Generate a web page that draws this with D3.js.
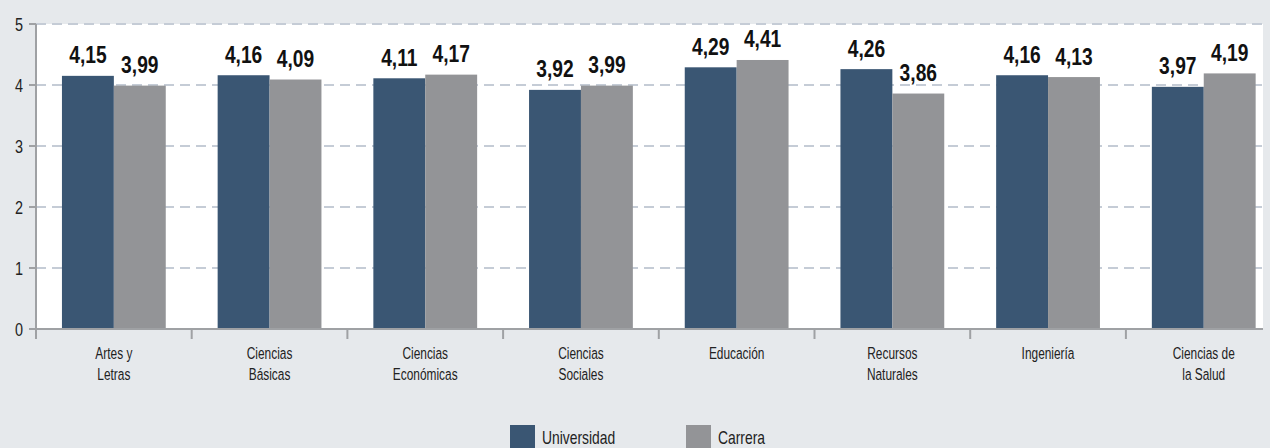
<!DOCTYPE html>
<html>
<head>
<meta charset="utf-8">
<script src="https://cdn.jsdelivr.net/npm/d3@7"></script>
<style>
  body { margin: 0; background: #e6e9ec; }
  svg { display: block; font-family: "Liberation Sans", Arial, sans-serif; }
</style>
</head>
<body>
<div id="chart"></div>
<script>
// data
const categories = ["Artes y\nLetras", "Ciencias\nBásicas", "Ciencias\nEconómicas", "Ciencias\nSociales",
  "Educación", "Recursos\nNaturales", "Ingeniería", "Ciencias de\nla Salud"];
const universidad = [4.15, 4.16, 4.11, 3.92, 4.29, 4.26, 4.16, 3.97];
const carrera = [3.99, 4.09, 4.17, 3.99, 4.41, 3.86, 4.13, 4.19];
const seriesNames = ["Universidad", "Carrera"];
const yTicks = [0, 1, 2, 3, 4, 5];

const colors = ["#3a5673", "#939497"];
const W = 1270, H = 448;
const mLeft = 36, mTop = 24, mBottom = 329, plotRight = 1263;

const svg = d3.select("#chart").append("svg")
  .attr("width", W).attr("height", H);

svg.append("rect").attr("width", W).attr("height", H).attr("fill", "#e6e9ec");

const x = d3.scaleBand().domain(categories).range([mLeft, mLeft + 8 * 155.7]);
const xs = d3.scaleBand().domain(seriesNames).range([0, x.bandwidth()]).paddingInner(0).paddingOuter(0.5);
const y = d3.scaleLinear().domain([0, 5]).range([mBottom, mTop]);

const loc = d3.formatLocale({decimal: ",", thousands: ".", grouping: [3], currency: ["", ""]});
const fmt = loc.format(".2f");

// narrow text: squeeze horizontally to mimic the condensed face
const squeeze = (px, py, sx) => `translate(${px},${py}) scale(${sx},1)`;

// white plot area
svg.append("rect")
  .attr("x", mLeft).attr("y", mTop)
  .attr("width", plotRight - mLeft).attr("height", mBottom - mTop)
  .attr("fill", "#ffffff");

// gridlines
svg.append("g").selectAll("line")
  .data(yTicks.filter(d => d > 0))
  .join("line")
    .attr("x1", mLeft).attr("x2", plotRight)
    .attr("y1", d => y(d)).attr("y2", d => y(d))
    .attr("stroke", "#c5ccd6").attr("stroke-width", 2)
    .attr("stroke-dasharray", "10,6");

// bars
const rows = categories.map((c, i) => ({cat: c, vals: [universidad[i], carrera[i]]}));
const grp = svg.append("g").selectAll("g")
  .data(rows)
  .join("g")
    .attr("transform", d => `translate(${x(d.cat)},0)`);

grp.selectAll("rect")
  .data(d => d.vals.map((v, j) => ({name: seriesNames[j], v, j})))
  .join("rect")
    .attr("x", d => xs(d.name))
    .attr("y", d => y(d.v))
    .attr("width", xs.bandwidth())
    .attr("height", d => y(0) - y(d.v))
    .attr("fill", d => colors[d.j]);

grp.selectAll("text")
  .data(d => d.vals.map((v, j) => ({name: seriesNames[j], v, j})))
  .join("text")
    .attr("transform", d => squeeze(xs(d.name) + xs.bandwidth() / 2, y(d.v) - 12.5, 0.8))
    .attr("text-anchor", "middle")
    .attr("font-size", 24)
    .attr("font-weight", "bold")
    .attr("fill", "#111")
    .text(d => fmt(d.v));

// axes
const axisColor = "#9fa1a4";
svg.append("line")
  .attr("x1", mLeft).attr("x2", mLeft).attr("y1", mTop).attr("y2", mBottom + 10)
  .attr("stroke", axisColor).attr("stroke-width", 2);
svg.append("line")
  .attr("x1", mLeft - 7).attr("x2", plotRight).attr("y1", mBottom).attr("y2", mBottom)
  .attr("stroke", axisColor).attr("stroke-width", 2);

svg.append("g").selectAll("line")
  .data(yTicks)
  .join("line")
    .attr("x1", mLeft - 7).attr("x2", mLeft)
    .attr("y1", d => y(d)).attr("y2", d => y(d))
    .attr("stroke", axisColor).attr("stroke-width", 2);

svg.append("g").selectAll("text")
  .data(yTicks)
  .join("text")
    .attr("transform", d => squeeze(23, y(d) + 6.5, 0.8))
    .attr("text-anchor", "end")
    .attr("font-size", 18)
    .attr("fill", "#222")
    .text(d => d);

// x ticks at band boundaries
svg.append("g").selectAll("line")
  .data(categories.slice(1))
  .join("line")
    .attr("x1", d => x(d)).attr("x2", d => x(d))
    .attr("y1", mBottom).attr("y2", mBottom + 10)
    .attr("stroke", axisColor).attr("stroke-width", 2);

svg.append("g").selectAll("text")
  .data(categories)
  .join("text")
    .attr("transform", d => squeeze(x(d) + x.bandwidth() / 2, 359, 0.7))
    .attr("text-anchor", "middle")
    .attr("font-size", 17)
    .attr("fill", "#222")
    .selectAll("tspan")
    .data(d => d.split("\n"))
    .join("tspan")
      .attr("x", 0)
      .attr("dy", (d, i) => i === 0 ? 0 : 21)
      .text(d => d);

// legend
const legendX = [510, 686];
const leg = svg.append("g").selectAll("g")
  .data(seriesNames)
  .join("g")
    .attr("transform", (d, i) => `translate(${legendX[i]},425)`);
leg.append("rect")
  .attr("width", 25).attr("height", 25)
  .attr("fill", (d, i) => colors[i]);
leg.append("text")
  .attr("transform", squeeze(32, 19, 0.73))
  .attr("font-size", 19)
  .attr("fill", "#222")
  .text(d => d);
</script>
</body>
</html>
